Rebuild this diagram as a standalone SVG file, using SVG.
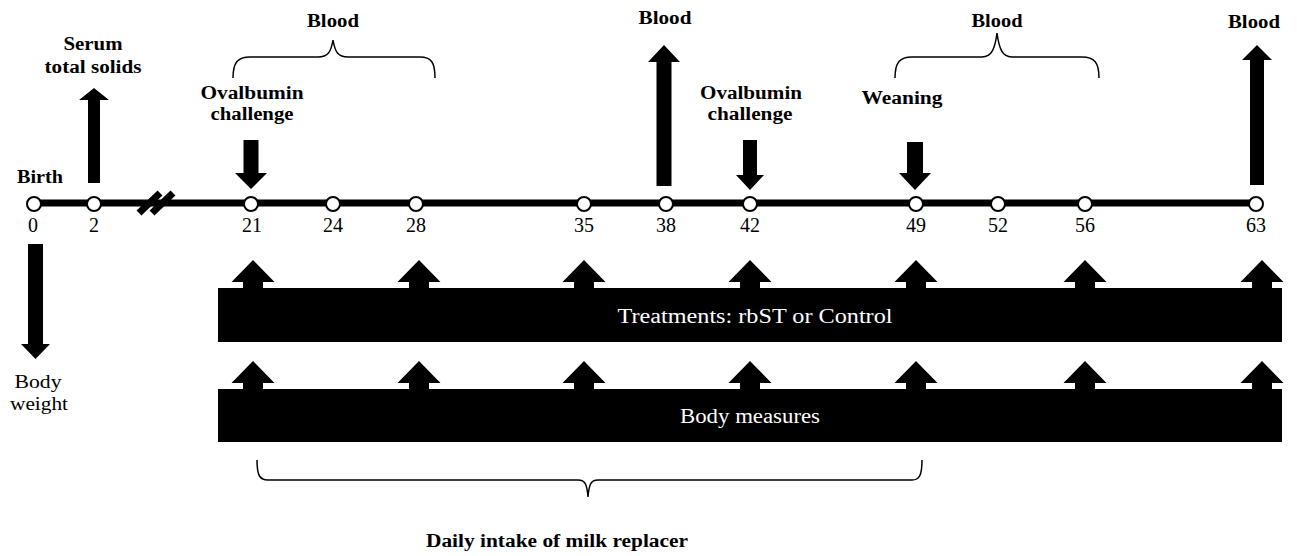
<svg xmlns="http://www.w3.org/2000/svg" width="1297" height="556" viewBox="0 0 1297 556">
<style>
.b{font-family:"Liberation Serif","Times New Roman",serif;font-weight:bold;font-size:18px;fill:#000;text-anchor:middle}
.r{font-family:"Liberation Serif","Times New Roman",serif;font-size:18px;fill:#000;text-anchor:middle}
.n{font-family:"Liberation Serif","Times New Roman",serif;font-size:20px;fill:#000;text-anchor:middle}
.w{font-family:"Liberation Serif","Times New Roman",serif;font-size:20px;fill:#fff;text-anchor:middle}
.dot{fill:#fff;stroke:#000;stroke-width:2}
.brace{fill:none;stroke:#000;stroke-width:1.5}
.ar{fill:#000}
</style>
<defs>
<path id="barArrow" d="M0,0 L21.5,22 L10,22 L10,29 L-10,29 L-10,22 L-21.5,22 Z"/>
</defs>
<g id="connectors">
<line x1="34" y1="203" x2="1256" y2="203" stroke="#000" stroke-width="7"/>
<g id="break" stroke="#000" stroke-width="7">
<line x1="139" y1="213" x2="160" y2="193"/>
<line x1="152" y1="213" x2="173" y2="193"/>
</g>
<polygon class="ar" points="94,88 109,100 100,100 100,183 88,183 88,100 79,100"/>
<polygon class="ar" points="664,45 680,62 671.5,62 671.5,186 656.5,186 656.5,62 648,62"/>
<polygon class="ar" points="1257,45 1272,60 1264,60 1264,185 1250,185 1250,60 1242,60"/>
<polygon class="ar" points="28,244 43,244 43,344 50,344 35.5,359 21,344 28,344"/>
<polygon class="ar" points="243.5,140 258.5,140 258.5,173 267,173 251,189 235,173 243.5,173"/>
<polygon class="ar" points="743,140 757,140 757,175 764,175 750,190 736,175 743,175"/>
<polygon class="ar" points="907,142 923,142 923,173 931,173 915,190 899,173 907,173"/>
<path class="brace" d="M233,78 C233,62 238,57 250,57 L318,57 C328,57 331,52 333,40 C335,52 338,57 348,57 L420,57 C431,57 435,62 435,78"/>
<path class="brace" d="M895,78 C895,62 900,57 912,57 L982,57 C992,57 995,48 997,33 C999,48 1002,57 1012,57 L1082,57 C1094,57 1099,62 1099,78"/>
<path class="brace" d="M257,460 C257,476 260,480 268,480 L578,480 C585,480 587,484 588,497 C589,484 591,480 598,480 L912,480 C919,480 922,476 922,460"/>
</g>
<g id="day0"><circle class="dot" cx="34" cy="204" r="7"/><text class="n" x="33" y="232">0</text></g>
<g id="day2"><circle class="dot" cx="94" cy="204" r="7"/><text class="n" x="94" y="232">2</text></g>
<g id="day21"><circle class="dot" cx="251" cy="204" r="7"/><text class="n" x="252" y="232">21</text></g>
<g id="day24"><circle class="dot" cx="333" cy="204" r="7"/><text class="n" x="333" y="232">24</text></g>
<g id="day28"><circle class="dot" cx="416" cy="204" r="7"/><text class="n" x="416" y="232">28</text></g>
<g id="day35"><circle class="dot" cx="584" cy="204" r="7"/><text class="n" x="584" y="232">35</text></g>
<g id="day38"><circle class="dot" cx="666" cy="204" r="7"/><text class="n" x="666" y="232">38</text></g>
<g id="day42"><circle class="dot" cx="750" cy="204" r="7"/><text class="n" x="750" y="232">42</text></g>
<g id="day49"><circle class="dot" cx="916" cy="204" r="7"/><text class="n" x="916" y="232">49</text></g>
<g id="day52"><circle class="dot" cx="998" cy="204" r="7"/><text class="n" x="998" y="232">52</text></g>
<g id="day56"><circle class="dot" cx="1085" cy="204" r="7"/><text class="n" x="1085" y="232">56</text></g>
<g id="day63"><circle class="dot" cx="1256" cy="204" r="7"/><text class="n" x="1256" y="232">63</text></g>
<g id="lbl-birth"><text class="b" x="40" y="183" textLength="46" lengthAdjust="spacingAndGlyphs">Birth</text></g>
<g id="lbl-serum"><text class="b" x="93" y="50" textLength="59" lengthAdjust="spacingAndGlyphs">Serum</text><text class="b" x="93" y="73" textLength="97" lengthAdjust="spacingAndGlyphs">total solids</text></g>
<g id="lbl-blood1"><text class="b" x="333" y="27" textLength="52" lengthAdjust="spacingAndGlyphs">Blood</text></g>
<g id="lbl-ova1"><text class="b" x="252" y="99" textLength="103" lengthAdjust="spacingAndGlyphs">Ovalbumin</text><text class="b" x="252" y="120" textLength="83" lengthAdjust="spacingAndGlyphs">challenge</text></g>
<g id="lbl-blood38"><text class="b" x="665" y="24" textLength="53" lengthAdjust="spacingAndGlyphs">Blood</text></g>
<g id="lbl-ova2"><text class="b" x="751" y="99" textLength="102" lengthAdjust="spacingAndGlyphs">Ovalbumin</text><text class="b" x="750" y="120" textLength="85" lengthAdjust="spacingAndGlyphs">challenge</text></g>
<g id="lbl-weaning"><text class="b" x="902" y="104" textLength="81" lengthAdjust="spacingAndGlyphs">Weaning</text></g>
<g id="lbl-blood2"><text class="b" x="997" y="27" textLength="51" lengthAdjust="spacingAndGlyphs">Blood</text></g>
<g id="lbl-blood63"><text class="b" x="1254" y="28" textLength="52" lengthAdjust="spacingAndGlyphs">Blood</text></g>
<g id="lbl-bodyweight"><text class="r" x="38" y="388" textLength="47" lengthAdjust="spacingAndGlyphs">Body</text><text class="r" x="39" y="410" textLength="58" lengthAdjust="spacingAndGlyphs">weight</text></g>
<g id="treatments">
<rect x="218" y="288" width="1064" height="54" fill="#000"/>
<use href="#barArrow" x="253" y="260"/><use href="#barArrow" x="419" y="260"/><use href="#barArrow" x="584" y="260"/><use href="#barArrow" x="750" y="260"/><use href="#barArrow" x="916" y="260"/><use href="#barArrow" x="1085" y="260"/><use href="#barArrow" x="1262" y="260"/>
<text class="w" x="755" y="323" textLength="275" lengthAdjust="spacingAndGlyphs">Treatments: rbST or Control</text>
</g>
<g id="bodymeasures">
<rect x="218" y="389" width="1064" height="53" fill="#000"/>
<use href="#barArrow" x="253" y="361"/><use href="#barArrow" x="419" y="361"/><use href="#barArrow" x="584" y="361"/><use href="#barArrow" x="750" y="361"/><use href="#barArrow" x="916" y="361"/><use href="#barArrow" x="1085" y="361"/><use href="#barArrow" x="1262" y="361"/>
<text class="w" x="750" y="423" font-size="19" textLength="140" lengthAdjust="spacingAndGlyphs">Body measures</text>
</g>
<g id="lbl-milk"><text class="b" x="557" y="547" textLength="262" lengthAdjust="spacingAndGlyphs">Daily intake of milk replacer</text></g>
</svg>
